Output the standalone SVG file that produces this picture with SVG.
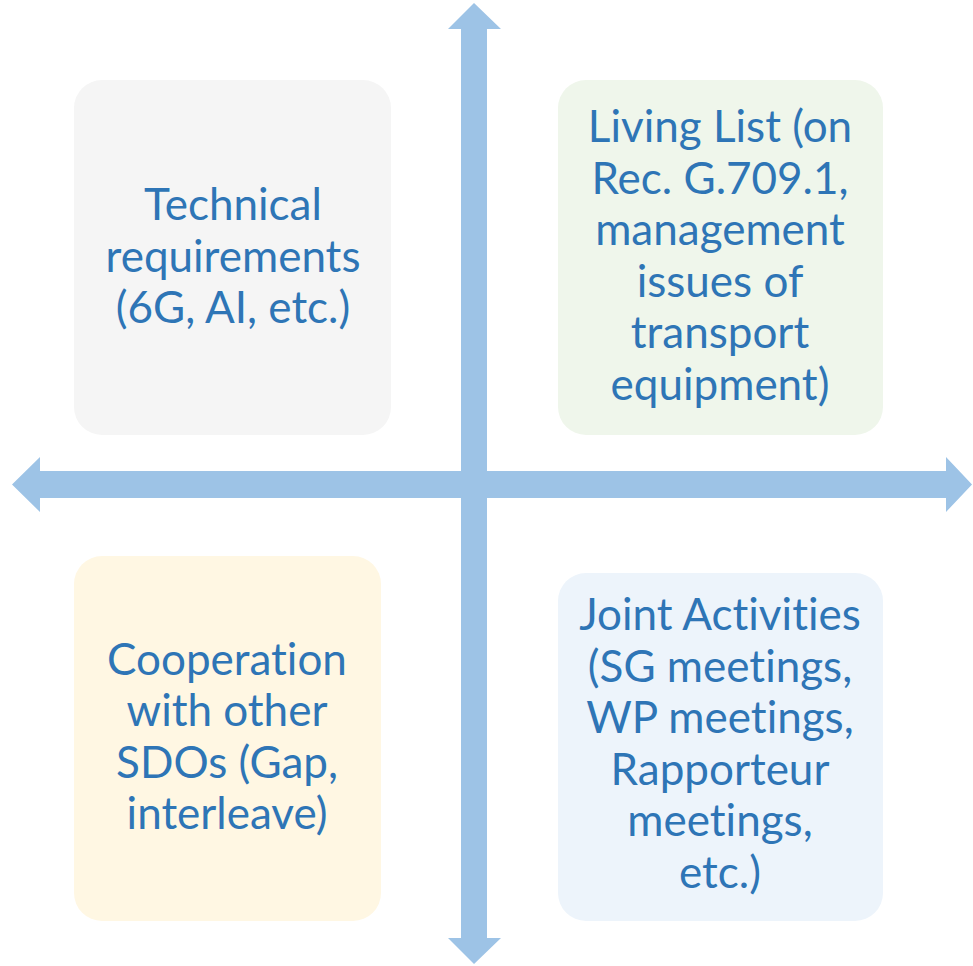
<svg xmlns="http://www.w3.org/2000/svg" width="973" height="966" viewBox="0 0 973 966">
<style>
.t{font-family:Lato,"Open Sans","Liberation Sans",sans-serif;font-size:44px;fill:#2E75B6;text-anchor:middle;font-variant-ligatures:none}
.ar{fill:#9DC3E6}
</style>
<rect width="973" height="966" fill="#FFFFFF"/>
<g id="connectors">
<polygon class="ar" points="474,3 501,29 487,29 487,938 501,938 474,964 448,938 461,938 461,29 448,29"/>
<polygon class="ar" points="12,484.5 40,457 40,471 946,471 946,457 972,484.5 946,512 946,498 40,498 40,512"/>
</g>
<g id="n1">
<rect x="74" y="80" width="317" height="355" rx="28" fill="#F5F5F5"/>
<text class="t" x="233" y="220">Technical</text>
<text class="t" x="233" y="272">requirements</text>
<text class="t" x="233" y="323">(6G, AI, etc.)</text>
</g>
<g id="n2">
<rect x="558" y="80" width="325" height="355" rx="28" fill="#EFF6EB"/>
<text class="t" x="720" y="142">Living List (on</text>
<text class="t" x="720" y="194">Rec. G.709.1,</text>
<text class="t" x="720" y="245">management</text>
<text class="t" x="720" y="297">issues of</text>
<text class="t" x="720" y="348">transport</text>
<text class="t" x="720" y="400">equipment)</text>
</g>
<g id="n3">
<rect x="74" y="556" width="307" height="365" rx="28" fill="#FFF7E3"/>
<text class="t" x="227" y="675">Cooperation</text>
<text class="t" x="227" y="726">with other</text>
<text class="t" x="227" y="778">SDOs (Gap,</text>
<text class="t" x="227" y="829">interleave)</text>
</g>
<g id="n4">
<rect x="558" y="573" width="325" height="348" rx="28" fill="#EDF4FB"/>
<text class="t" x="720" y="630">Joint Activities</text>
<text class="t" x="720" y="682">(SG meetings,</text>
<text class="t" x="720" y="733">WP meetings,</text>
<text class="t" x="720" y="785">Rapporteur</text>
<text class="t" x="720" y="836">meetings,</text>
<text class="t" x="720" y="888">etc.)</text>
</g>
</svg>
